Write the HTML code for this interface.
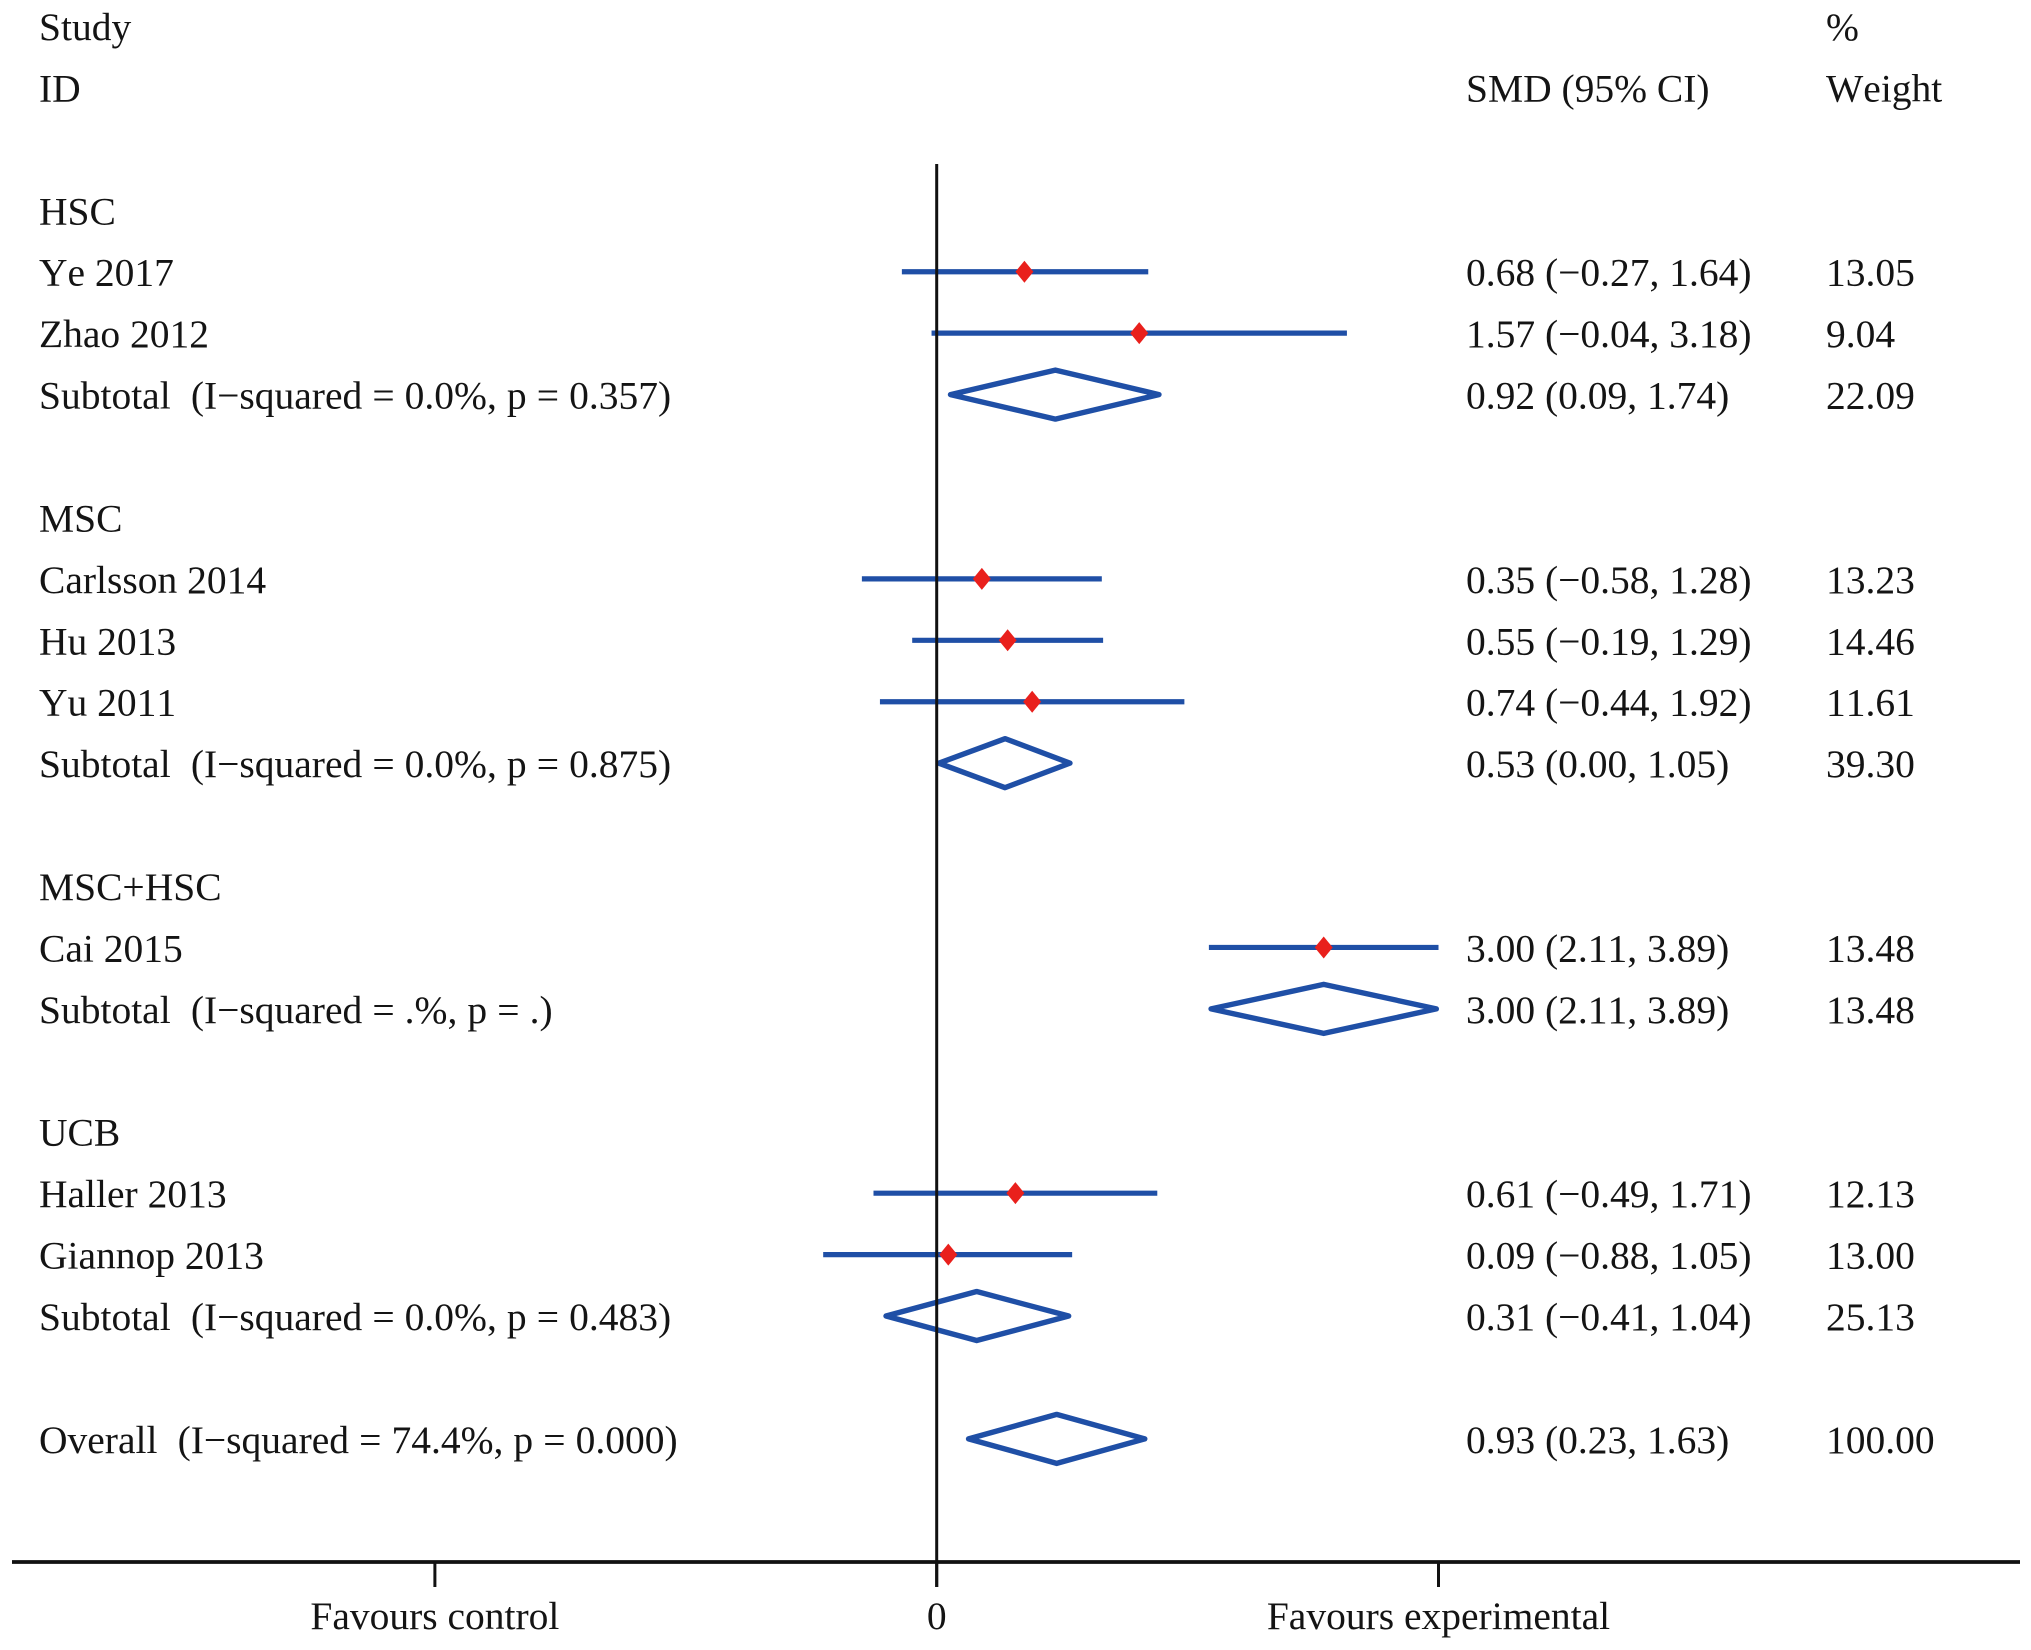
<!DOCTYPE html>
<html lang="en">
<head>
<meta charset="utf-8">
<title>Forest plot</title>
<style>
html,body{margin:0;padding:0;background:#fff;}
svg{display:block;}
text{font-family:"Liberation Serif",serif;font-size:39.5px;fill:#141414;white-space:pre;font-kerning:none;}
text.stat-label{word-spacing:0.2px;}
</style>
</head>
<body>
<svg id="chart" xmlns="http://www.w3.org/2000/svg" width="2031" height="1650" viewBox="0 0 2031 1650">
  <rect x="0" y="0" width="2031" height="1650" fill="#ffffff"/>
  <g id="marks"></g>
  <g id="labels"></g>
  <g id="axis"></g>
</svg>
<script>
const rowLabels = ["Study","ID","","HSC","Ye 2017","Zhao 2012","Subtotal  (I\u2212squared = 0.0%, p = 0.357)","","MSC","Carlsson 2014","Hu 2013","Yu 2011","Subtotal  (I\u2212squared = 0.0%, p = 0.875)","","MSC+HSC","Cai 2015","Subtotal  (I\u2212squared = .%, p = .)","","UCB","Haller 2013","Giannop 2013","Subtotal  (I\u2212squared = 0.0%, p = 0.483)","","Overall  (I\u2212squared = 74.4%, p = 0.000)"];
const rowKinds = ["head","head","gap","group","study","study","pooled","gap","group","study","study","study","pooled","gap","group","study","pooled","gap","group","study","study","pooled","gap","pooled"];
const smd = [null,null,null,null,0.68,1.57,0.92,null,null,0.35,0.55,0.74,0.53,null,null,3.00,3.00,null,null,0.61,0.09,0.31,null,0.93];
const ciLow = [null,null,null,null,-0.27,-0.04,0.09,null,null,-0.58,-0.19,-0.44,0.00,null,null,2.11,2.11,null,null,-0.49,-0.88,-0.41,null,0.23];
const ciHigh = [null,null,null,null,1.64,3.18,1.74,null,null,1.28,1.29,1.92,1.05,null,null,3.89,3.89,null,null,1.71,1.05,1.04,null,1.63];
const weights = [null,null,null,null,"13.05","9.04","22.09",null,null,"13.23","14.46","11.61","39.30",null,null,"13.48","13.48",null,null,"12.13","13.00","25.13",null,"100.00"];
const tickValues = [-3.89,0,3.89];
const tickLabels = ["Favours control","0","Favours experimental"];
const effectHeader = "SMD (95% CI)";
const weightHeaders = ["%","Weight"];

const NS = "http://www.w3.org/2000/svg";
const BLUE = "#1f4fa6";
const RED = "#e9201c";
const AXIS_COLOR = "#111111";
const DIAMOND_INSET = 2.2;
const xScale = v => 936.7 + v * 129;
const yScale = i => 26 + i * 61.43;
const marks = document.getElementById("marks");
const labels = document.getElementById("labels");
const axis = document.getElementById("axis");

function make(tag, attrs, parent) {
  const el = document.createElementNS(NS, tag);
  for (const k in attrs) el.setAttribute(k, attrs[k]);
  parent.appendChild(el);
  return el;
}
function fmt(v) {
  return v.toFixed(2).replace("-", "\u2212");
}
function slug(s) {
  return s.toLowerCase().replace(/[^a-z0-9]+/g, "-").replace(/^-|-$/g, "");
}

/* zero reference line */
const zeroLine = make("line", {x1: xScale(0), x2: xScale(0), y1: 164, y2: 1587, stroke: AXIS_COLOR, "stroke-width": 3}, axis);



/* x axis */
const axisLine = make("line", {x1: 12, x2: 2020, y1: 1562, y2: 1562, stroke: AXIS_COLOR, "stroke-width": 3.8}, axis);



tickValues.forEach((v, i) => {
  const tick = make("line", {x1: xScale(v), x2: xScale(v), y1: 1562, y2: 1587, stroke: AXIS_COLOR, "stroke-width": 3}, axis);
  
  
  const lab = make("text", {x: xScale(v), y: 1629, "text-anchor": "middle"}, axis);
  lab.textContent = tickLabels[i];
  
  
});

/* headers */
const effHead = make("text", {x: 1466, y: yScale(1) + 14}, labels);
effHead.textContent = effectHeader;


weightHeaders.forEach((t, i) => {
  const h = make("text", {x: 1826, y: yScale(i) + 14}, labels);
  h.textContent = t;
  
  
});

/* rows */
rowLabels.forEach((label, i) => {
  const y = yScale(i);
  const kind = rowKinds[i];
  if (label) {
    const t = make("text", {x: 39, y: y + 14}, labels);
    t.textContent = label;
    if (kind === "pooled") t.setAttribute("class", "stat-label");
    
    
  }
  if (smd[i] === null) return;

  const ci = make("text", {x: 1466, y: y + 14}, labels);
  ci.textContent = smd[i].toFixed(2) + " (" + fmt(ciLow[i]) + ", " + fmt(ciHigh[i]) + ")";
  
  

  const w = make("text", {x: 1826, y: y + 14}, labels);
  w.textContent = weights[i];
  
  

  if (kind === "study") {
    const line = make("line", {x1: xScale(ciLow[i]), x2: xScale(ciHigh[i]), y1: y, y2: y, stroke: BLUE, "stroke-width": 5.2}, marks);
    
    
    const cx = xScale(smd[i]);
    const pt = make("polygon", {points: [cx - 9, y, cx, y - 11, cx + 9, y, cx, y + 11].join(" "), fill: RED}, marks);
    
    
  } else {
    const pts = [xScale(ciLow[i]) + DIAMOND_INSET, y, xScale(smd[i]), y - 24.5, xScale(ciHigh[i]) - DIAMOND_INSET, y, xScale(smd[i]), y + 24.5].join(" ");
    const d = make("polygon", {points: pts, fill: "none", stroke: BLUE, "stroke-width": 5.4, "stroke-linejoin": "round"}, marks);
    
    
  }
});
</script>
</body>
</html>
